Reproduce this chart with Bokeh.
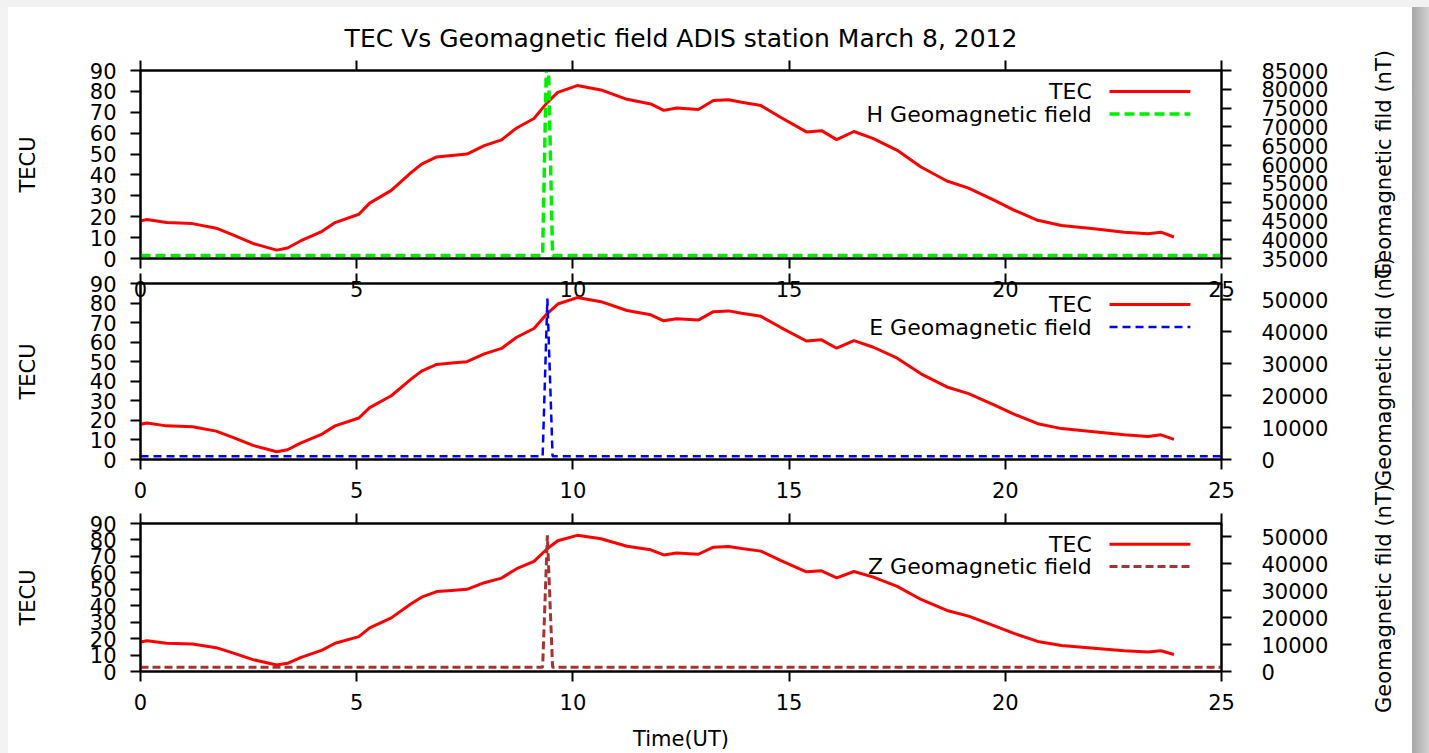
from bokeh.plotting import figure
from bokeh.models import LinearAxis, Range1d, FixedTicker, Label, Arrow, Title
from bokeh.layouts import column, row
from bokeh.embed import file_html
from bokeh.resources import INLINE

# Total electron content over the day (hours UT, TECU)
tec_time = [0.0, 0.15, 0.6, 1.2, 1.75, 2.15, 2.6, 3.15, 3.4, 3.7, 4.2, 4.5, 5.05, 5.3,
            5.8, 6.25, 6.5, 6.85, 7.2, 7.55, 7.95, 8.35, 8.7, 9.1, 9.4, 9.65, 10.1,
            10.65, 11.25, 11.8, 12.1, 12.4, 12.9, 13.25, 13.6, 13.9, 14.35, 14.8,
            15.4, 15.75, 16.1, 16.5, 16.95, 17.5, 18.05, 18.65, 19.15, 19.75, 20.2,
            20.75, 21.3, 22.05, 22.75, 23.3, 23.6, 23.9]
tec_value = [18.0, 18.7, 17.2, 16.7, 14.5, 11.2, 7.2, 4.0, 5.0, 8.4, 13.0, 17.2, 21.2, 26.5,
             32.6, 41.0, 45.2, 48.6, 49.3, 50.0, 54.0, 56.8, 62.5, 67.0, 74.5, 79.5, 82.8,
             80.7, 76.2, 74.0, 70.9, 72.0, 71.3, 75.6, 76.0, 74.8, 73.2, 67.6,
             60.6, 61.2, 56.9, 60.8, 57.4, 51.8, 43.8, 37.1, 33.7, 27.8, 23.2,
             18.3, 15.8, 14.2, 12.6, 11.8, 12.6, 10.3]

# Geomagnetic field components (nT)
geo_time = [0.0, 9.30, 9.41, 9.53, 25.0]
h_field = [35800, 35800, 99999, 35800, 35800]
e_field = [1000, 1000, 50300, 1000, 1000]
z_field = [1600, 1600, 50600, 1600, 1600]

x_ticks = [0, 5, 10, 15, 20, 25]
tec_ticks = [0, 10, 20, 30, 40, 50, 60, 70, 80, 90]
h_ticks = [35000, 40000, 45000, 50000, 55000, 60000, 65000, 70000, 75000, 80000, 85000]
ez_ticks = [0, 10000, 20000, 30000, 40000, 50000]

FONT = "DejaVu Sans"
TICK_SIZE = "21px"
X_MAX = 25
MAIN_W = 1345      # plot with both value axes
SIDE_W = 84        # strip carrying the right-hand axis titles
FRAME_L = 140
FRAME_W = 1081
GEO_TITLE = "Geomagnetic fild (nT)"


def style_axis(ax, ticks, labels=True):
    ax.ticker = FixedTicker(ticks=ticks)
    ax.axis_line_color = "black"
    ax.axis_line_width = 2
    ax.major_tick_line_color = "black"
    ax.major_tick_line_width = 2
    ax.major_tick_in = 0
    ax.major_tick_out = 10
    ax.minor_tick_line_color = None
    ax.major_label_text_font = FONT
    ax.major_label_text_color = "black"
    ax.axis_label_text_font = FONT
    ax.axis_label_text_font_size = "21px"
    ax.axis_label_text_font_style = "normal"
    ax.axis_label_text_color = "black"
    if labels:
        ax.major_label_text_font_size = TICK_SIZE
    else:
        # mirrored ticks only, no numbers
        ax.major_label_text_font_size = "0px"
        ax.major_label_text_color = None
        ax.major_label_standoff = 0


def side_title(height, top, bottom, text):
    # empty frame whose left-hand title reads upwards, centred on the frame
    s = figure(width=SIDE_W, height=height, x_range=Range1d(0, 1), y_range=Range1d(0, 1),
               output_backend="svg", toolbar_location=None,
               x_axis_location=None, y_axis_location=None,
               min_border_left=50, min_border_right=0,
               min_border_top=top, min_border_bottom=bottom)
    s.grid.visible = False
    s.outline_line_color = None
    s.background_fill_color = None
    s.border_fill_color = None
    s.add_layout(Title(text=text, align="center", text_font=FONT, text_font_size="21px",
                       text_font_style="normal", text_color="black", standoff=0), "left")
    return s


def panel(height, top, bottom, geo, geo_range, geo_ticks, geo_name, color, dash, lw,
          xlabel=None, title=None):
    p = figure(width=MAIN_W, height=height, x_range=Range1d(0, X_MAX), y_range=Range1d(0, 90),
               output_backend="svg", toolbar_location=None,
               x_axis_location=None, y_axis_location=None,
               min_border_left=FRAME_L, min_border_right=MAIN_W - FRAME_L - FRAME_W,
               min_border_top=top, min_border_bottom=bottom)
    p.grid.visible = False
    p.outline_line_color = "black"
    p.outline_line_width = 2
    p.background_fill_color = None
    p.border_fill_color = None
    p.extra_y_ranges = {"geo": Range1d(*geo_range)}

    left = LinearAxis(axis_label="TECU", axis_label_standoff=47, major_label_standoff=14)
    style_axis(left, tec_ticks)
    p.add_layout(left, "left")

    right = LinearAxis(y_range_name="geo", major_label_standoff=30)
    style_axis(right, geo_ticks)
    p.add_layout(right, "right")

    below = LinearAxis(major_label_standoff=12)
    style_axis(below, x_ticks)
    if xlabel:
        below.axis_label = xlabel
        below.axis_label_standoff = 14
    p.add_layout(below, "below")

    above = LinearAxis()
    style_axis(above, x_ticks, labels=False)
    p.add_layout(above, "above")

    if title:
        p.add_layout(Title(text=title, align="center", text_font=FONT, text_font_size="25px",
                           text_font_style="normal", text_color="black", standoff=15), "above")

    p.line(tec_time, tec_value, line_color="red", line_width=3)
    p.line(geo_time, geo, y_range_name="geo", line_color=color, line_width=lw, line_dash=dash)

    # key in the upper right corner: text, then a sample of the line
    frame_h = height - top - bottom
    rows = [("TEC", "red", "solid", 3), (geo_name, color, dash, lw)]
    for i, (txt, c, d, w) in enumerate(rows):
        yv = 90 - (21 + 22.5 * i) * 90 / frame_h
        p.add_layout(Label(x=22.0, y=yv, text=txt, text_align="right", text_baseline="middle",
                           text_font=FONT, text_font_size="22px", text_color="black"))
        p.add_layout(Arrow(end=None, x_start=22.41, x_end=24.28, y_start=yv, y_end=yv,
                           line_color=c, line_width=w, line_dash=d))
    return p


p1 = panel(300, 70, 42, h_field, (35000, 85000), h_ticks, "H Geomagnetic field",
           "#00ee00", "10 5", 3.5, title="TEC Vs Geomagnetic field ADIS station March 8, 2012")
p2 = panel(235, 13, 46, e_field, (0, 55000), ez_ticks, "E Geomagnetic field",
           "#0000ff", "8 5", 2.5)
p3 = panel(248, 18, 80, z_field, (0, 55000), ez_ticks, "Z Geomagnetic field",
           "#a83232", "8 4", 3, xlabel="Time(UT)")
p2.margin = (-30, 0, 0, 0)

# right-hand titles; the canvases overlap so each long title fits beside its panel
s1 = side_title(300, 70, 42, GEO_TITLE)
s2 = side_title(250, 20, 28, GEO_TITLE)
s3 = side_title(273, 20, 57, GEO_TITLE)
s2.margin = (-50, 0, 0, 0)
s3.margin = (-20, 0, 0, 0)

page_bg = ("linear-gradient(to bottom, #f2f2f2 0px, #f2f2f2 7px, rgba(255,255,255,0) 7px), "
           "linear-gradient(to right, #f3f3f3 0px, #f3f3f3 8px, #ffffff 8px, #ffffff 1412px, "
           "#a6a6a6 1412px, #d2d2d2 1429px)")
layout = row(column(p1, p2, p3), column(s1, s2, s3), styles={"background": page_bg})
open("out.html", "w").write(file_html(layout, INLINE))
